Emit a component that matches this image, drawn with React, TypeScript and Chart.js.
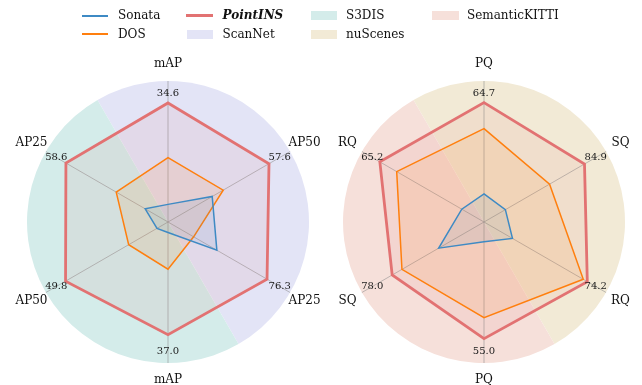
import React, { useEffect, useRef } from 'react';
import { Chart, registerables } from 'chart.js';

Chart.register(...registerables);

// ---------- data ----------
const leftAxes = ['mAP', 'AP50', 'AP25', 'mAP', 'AP50', 'AP25'];
const leftSonata = [0.125, 0.362, 0.4, 0.074, 0.09, 0.187];
const leftDOS = [0.457, 0.452, 0.21, 0.335, 0.322, 0.424];
const leftPointINS = [0.844, 0.827, 0.811, 0.799, 0.839, 0.836];
const leftValueLabels = ['34.6', '57.6', '76.3', '37.0', '49.8', '58.6'];

const rightAxes = ['PQ', 'SQ', 'RQ', 'PQ', 'SQ', 'RQ'];
const rightSonata = [0.199, 0.175, 0.233, 0.14, 0.371, 0.182];
const rightDOS = [0.662, 0.537, 0.813, 0.678, 0.672, 0.715];
const rightPointINS = [0.847, 0.823, 0.846, 0.827, 0.752, 0.853];
const rightValueLabels = ['64.7', '84.9', '74.2', '55.0', '78.0', '65.2'];

const seriesNames = ['Sonata', 'DOS', 'PointINS'];
const datasetNames = ['ScanNet', 'S3DIS', 'nuScenes', 'SemanticKITTI'];

// ---------- styles ----------
const SERIF = "'DejaVu Serif', serif";
const C_SONATA = 'rgb(62,138,196)';
const C_DOS = 'rgb(255,127,14)';
const C_POINTINS = 'rgb(226,114,114)';
const C_SCANNET = 'rgb(227,228,246)';
const C_S3DIS = 'rgb(212,236,234)';
const C_NUSC = 'rgb(242,234,214)';
const C_KITTI = 'rgb(246,224,218)';

function makePlugins(bg: [string, string], axes: string[], values: string[]) {
  return [
    {
      id: 'bgWedges',
      beforeDraw(chart: any) {
        const s = chart.scales.r;
        const ctx = chart.ctx;
        const cx = s.xCenter, cy = s.yCenter, R = s.drawingArea;
        const a0 = (-120 * Math.PI) / 180;
        const a1 = (60 * Math.PI) / 180;
        ctx.save();
        ctx.fillStyle = bg[0];
        ctx.beginPath();
        ctx.moveTo(cx, cy);
        ctx.arc(cx, cy, R, a0, a1);
        ctx.closePath();
        ctx.fill();
        ctx.fillStyle = bg[1];
        ctx.beginPath();
        ctx.moveTo(cx, cy);
        ctx.arc(cx, cy, R, a1, a0 + 2 * Math.PI);
        ctx.closePath();
        ctx.fill();
        ctx.restore();
      },
    },
    {
      id: 'labels',
      afterDraw(chart: any) {
        const s = chart.scales.r;
        const ctx = chart.ctx;
        const R = s.drawingArea;
        ctx.save();
        ctx.textAlign = 'center';
        ctx.textBaseline = 'middle';
        ctx.font = `12px ${SERIF}`;
        ctx.fillStyle = '#111';
        axes.forEach((lab, i) => {
          const p = s.getPointPosition(i, R * 1.118);
          ctx.fillText(lab, p.x, p.y);
        });
        ctx.font = `10px ${SERIF}`;
        ctx.fillStyle = '#1a1a1a';
        values.forEach((v, i) => {
          const p = s.getPointPosition(i, R * 0.915);
          ctx.fillText(v, p.x, p.y);
        });
        ctx.restore();
      },
    },
  ];
}

function RadarPanel(props: {
  left: number;
  pad: { left: number; right: number; top: number; bottom: number };
  axes: string[];
  sonata: number[];
  dos: number[];
  pointins: number[];
  values: string[];
  bg: [string, string];
}) {
  const ref = useRef<HTMLCanvasElement | null>(null);
  useEffect(() => {
    if (!ref.current) return;
    const chart = new Chart(ref.current, {
      type: 'radar',
      data: {
        labels: props.axes,
        datasets: [
          {
            label: seriesNames[0],
            data: props.sonata,
            borderColor: C_SONATA,
            backgroundColor: 'rgba(62,138,196,0.10)',
            borderWidth: 1.5,
            pointRadius: 0,
            fill: true,
          },
          {
            label: seriesNames[1],
            data: props.dos,
            borderColor: C_DOS,
            backgroundColor: 'rgba(255,127,14,0.10)',
            borderWidth: 1.5,
            pointRadius: 0,
            fill: true,
          },
          {
            label: seriesNames[2],
            data: props.pointins,
            borderColor: C_POINTINS,
            backgroundColor: 'rgba(226,114,114,0.09)',
            borderWidth: 2.8,
            pointRadius: 0,
            fill: true,
          },
        ],
      },
      options: {
        responsive: false,
        animation: false,
        devicePixelRatio: 1,
        layout: { padding: props.pad },
        plugins: { legend: { display: false }, tooltip: { enabled: false } },
        elements: { line: { tension: 0, borderJoinStyle: 'miter' } },
        scales: {
          r: {
            min: 0,
            max: 1,
            ticks: { display: false },
            grid: { display: false },
            pointLabels: { display: false },
            angleLines: { display: true, color: 'rgba(140,140,140,0.55)', lineWidth: 1 },
          },
        },
      } as any,
      plugins: makePlugins(props.bg, props.axes, props.values) as any,
    });
    return () => chart.destroy();
  }, []);
  return (
    <canvas
      ref={ref}
      width={321}
      height={385}
      style={{ position: 'absolute', left: props.left, top: 0, width: 321, height: 385 }}
    />
  );
}

function LegendLine(p: { x: number; y: number; w: number; h: number; color: string }) {
  return (
    <div
      style={{
        position: 'absolute',
        left: p.x,
        top: p.y - p.h / 2,
        width: p.w,
        height: p.h,
        background: p.color,
      }}
    />
  );
}

function LegendText(p: { x: number; y: number; text: string; bold?: boolean }) {
  return (
    <div
      style={{
        position: 'absolute',
        left: p.x,
        top: p.y,
        transform: 'translateY(-50%)',
        font: `${p.bold ? 'italic bold ' : ''}12px ${SERIF}`,
        color: '#111',
        whiteSpace: 'nowrap',
        lineHeight: 'normal',
      }}
    >
      {p.text}
    </div>
  );
}

export default function App() {
  const r1 = 15.2;
  const r2 = 33.6;
  return (
    <div
      style={{
        position: 'fixed',
        left: 0,
        top: 0,
        width: 642,
        height: 385,
        background: '#fff',
        overflow: 'hidden',
      }}
    >
      <RadarPanel
        left={0}
        pad={{ left: 27, right: 12, top: 81, bottom: 22 }}
        axes={leftAxes}
        sonata={leftSonata}
        dos={leftDOS}
        pointins={leftPointINS}
        values={leftValueLabels}
        bg={[C_SCANNET, C_S3DIS]}
      />
      <RadarPanel
        left={321}
        pad={{ left: 22, right: 17, top: 81, bottom: 22 }}
        axes={rightAxes}
        sonata={rightSonata}
        dos={rightDOS}
        pointins={rightPointINS}
        values={rightValueLabels}
        bg={[C_NUSC, C_KITTI]}
      />
      {/* legend */}
      <LegendLine x={82} y={15.5} w={26} h={2} color={C_SONATA} />
      <LegendText x={118} y={r1} text={seriesNames[0]} />
      <LegendLine x={82} y={34} w={26} h={2} color={C_DOS} />
      <LegendText x={118} y={r2} text={seriesNames[1]} />
      <LegendLine x={186} y={15.5} w={27} h={3} color={C_POINTINS} />
      <LegendText x={222.5} y={r1} text={seriesNames[2]} bold />
      <div style={{ position: 'absolute', left: 186.5, top: 29.5, width: 26.5, height: 9, background: C_SCANNET }} />
      <LegendText x={222.5} y={r2} text={datasetNames[0]} />
      <div style={{ position: 'absolute', left: 310.5, top: 11, width: 26.5, height: 9, background: C_S3DIS }} />
      <LegendText x={346} y={r1} text={datasetNames[1]} />
      <div style={{ position: 'absolute', left: 310.5, top: 29.5, width: 26.5, height: 9, background: C_NUSC }} />
      <LegendText x={346} y={r2} text={datasetNames[2]} />
      <div style={{ position: 'absolute', left: 432, top: 11, width: 26.5, height: 9, background: C_KITTI }} />
      <LegendText x={467} y={r1} text={datasetNames[3]} />
    </div>
  );
}
